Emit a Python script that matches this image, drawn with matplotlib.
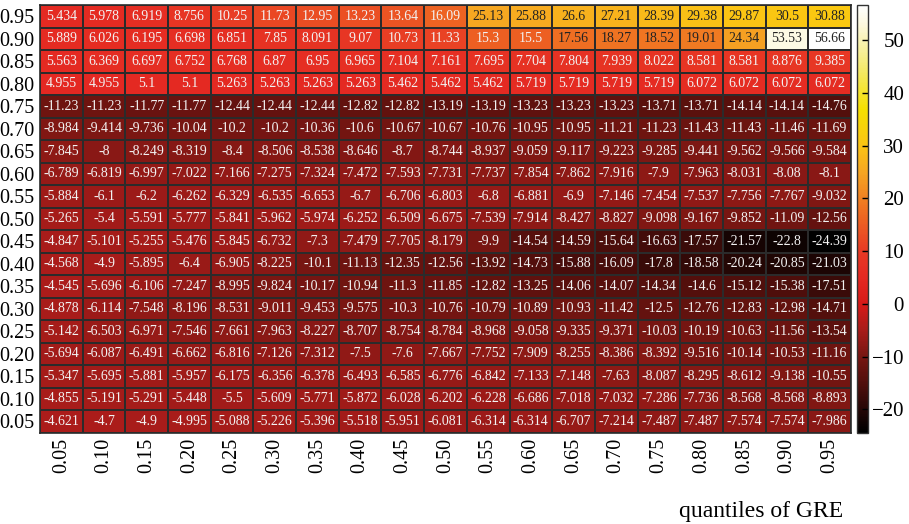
import numpy as np
import matplotlib.pyplot as plt
from matplotlib.colors import LinearSegmentedColormap, Normalize

plt.rcParams['font.family'] = ['Liberation Serif', 'DejaVu Serif']

# quantile levels used on both axes
quantiles = ['0.05', '0.10', '0.15', '0.20', '0.25', '0.30', '0.35', '0.40', '0.45', '0.50',
             '0.55', '0.60', '0.65', '0.70', '0.75', '0.80', '0.85', '0.90', '0.95']

# one list per row (y quantile), columns follow the GRE quantiles
row_095 = [5.434, 5.978, 6.919, 8.756, 10.25, 11.73, 12.95, 13.23, 13.64, 16.09,
           25.13, 25.88, 26.6, 27.21, 28.39, 29.38, 29.87, 30.5, 30.88]
row_090 = [5.889, 6.026, 6.195, 6.698, 6.851, 7.85, 8.091, 9.07, 10.73, 11.33,
           15.3, 15.5, 17.56, 18.27, 18.52, 19.01, 24.34, 53.53, 56.66]
row_085 = [5.563, 6.369, 6.697, 6.752, 6.768, 6.87, 6.95, 6.965, 7.104, 7.161,
           7.695, 7.704, 7.804, 7.939, 8.022, 8.581, 8.581, 8.876, 9.385]
row_080 = [4.955, 4.955, 5.1, 5.1, 5.263, 5.263, 5.263, 5.263, 5.462, 5.462,
           5.462, 5.719, 5.719, 5.719, 5.719, 6.072, 6.072, 6.072, 6.072]
row_075 = [-11.23, -11.23, -11.77, -11.77, -12.44, -12.44, -12.44, -12.82, -12.82, -13.19,
           -13.19, -13.23, -13.23, -13.23, -13.71, -13.71, -14.14, -14.14, -14.76]
row_070 = [-8.984, -9.414, -9.736, -10.04, -10.2, -10.2, -10.36, -10.6, -10.67, -10.67,
           -10.76, -10.95, -10.95, -11.21, -11.23, -11.43, -11.43, -11.46, -11.69]
row_065 = [-7.845, -8, -8.249, -8.319, -8.4, -8.506, -8.538, -8.646, -8.7, -8.744,
           -8.937, -9.059, -9.117, -9.223, -9.285, -9.441, -9.562, -9.566, -9.584]
row_060 = [-6.789, -6.819, -6.997, -7.022, -7.166, -7.275, -7.324, -7.472, -7.593, -7.731,
           -7.737, -7.854, -7.862, -7.916, -7.9, -7.963, -8.031, -8.08, -8.1]
row_055 = [-5.884, -6.1, -6.2, -6.262, -6.329, -6.535, -6.653, -6.7, -6.706, -6.803,
           -6.8, -6.881, -6.9, -7.146, -7.454, -7.537, -7.756, -7.767, -9.032]
row_050 = [-5.265, -5.4, -5.591, -5.777, -5.841, -5.962, -5.974, -6.252, -6.509, -6.675,
           -7.539, -7.914, -8.427, -8.827, -9.098, -9.167, -9.852, -11.09, -12.56]
row_045 = [-4.847, -5.101, -5.255, -5.476, -5.845, -6.732, -7.3, -7.479, -7.705, -8.179,
           -9.9, -14.54, -14.59, -15.64, -16.63, -17.57, -21.57, -22.8, -24.39]
row_040 = [-4.568, -4.9, -5.895, -6.4, -6.905, -8.225, -10.1, -11.13, -12.35, -12.56,
           -13.92, -14.73, -15.88, -16.09, -17.8, -18.58, -20.24, -20.85, -21.03]
row_035 = [-4.545, -5.696, -6.106, -7.247, -8.995, -9.824, -10.17, -10.94, -11.3, -11.85,
           -12.82, -13.25, -14.06, -14.07, -14.34, -14.6, -15.12, -15.38, -17.51]
row_030 = [-4.878, -6.114, -7.548, -8.196, -8.531, -9.011, -9.453, -9.575, -10.3, -10.76,
           -10.79, -10.89, -10.93, -11.42, -12.5, -12.76, -12.83, -12.98, -14.71]
row_025 = [-5.142, -6.503, -6.971, -7.546, -7.661, -7.963, -8.227, -8.707, -8.754, -8.784,
           -8.968, -9.058, -9.335, -9.371, -10.03, -10.19, -10.63, -11.56, -13.54]
row_020 = [-5.694, -6.087, -6.491, -6.662, -6.816, -7.126, -7.312, -7.5, -7.6, -7.667,
           -7.752, -7.909, -8.255, -8.386, -8.392, -9.516, -10.14, -10.53, -11.16]
row_015 = [-5.347, -5.695, -5.881, -5.957, -6.175, -6.356, -6.378, -6.493, -6.585, -6.776,
           -6.842, -7.133, -7.148, -7.63, -8.087, -8.295, -8.612, -9.138, -10.55]
row_010 = [-4.855, -5.191, -5.291, -5.448, -5.5, -5.609, -5.771, -5.872, -6.028, -6.202,
           -6.228, -6.686, -7.018, -7.032, -7.286, -7.736, -8.568, -8.568, -8.893]
row_005 = [-4.621, -4.7, -4.9, -4.995, -5.088, -5.226, -5.396, -5.518, -5.951, -6.081,
           -6.314, -6.314, -6.707, -7.214, -7.487, -7.487, -7.574, -7.574, -7.986]

# bottom row first so that 0.05 sits at the bottom of the grid
values = np.array([row_005, row_010, row_015, row_020, row_025, row_030, row_035,
                   row_040, row_045, row_050, row_055, row_060, row_065, row_070,
                   row_075, row_080, row_085, row_090, row_095])

vmin, vmax = values.min(), values.max()

# black -> dark red -> red -> orange -> yellow -> white
stops = [(-24.39, '#000000'), (-15, '#520f0c'), (-10, '#781612'), (-5, '#a81c1a'),
         (0, '#d81a18'), (5, '#e42822'), (10, '#e83a24'), (17, '#ee6a22'),
         (25, '#f6a622'), (30, '#fbc414'), (37, '#f5e000'), (45, '#f4ea70'),
         (53, '#fdf8dc'), (56.66, '#ffffff')]
cmap = LinearSegmentedColormap.from_list(
    'heat', [((v - vmin) / (vmax - vmin), c) for v, c in stops])
norm = Normalize(vmin=vmin, vmax=vmax)

fig = plt.figure(figsize=(9.09, 5.24), dpi=100)
ax = fig.add_axes([40 / 909, 1 - 432.5 / 524, 811 / 909, 427.5 / 524])

mesh = ax.pcolormesh(values, cmap=cmap, norm=norm, edgecolors='#2b2b2b', linewidth=1.4)

n = len(quantiles)
for i in range(n):
    for j in range(n):
        v = values[i, j]
        col = '#222222' if v > 17 else '#f2f2f2'
        ax.text(j + 0.5, i + 0.5, f'{v:.4g}', ha='center', va='center',
                fontsize=10, color=col)

ax.set_xlim(0, n)
ax.set_ylim(0, n)
ax.set_xticks(np.arange(n) + 0.5)
ax.set_xticklabels(quantiles, rotation=90, fontsize=14.5)
ax.set_yticks(np.arange(n) + 0.5)
ax.set_yticklabels(quantiles, fontsize=14.5)
ax.tick_params(length=0, pad=4)
for s in ax.spines.values():
    s.set_color('#2b2b2b')
    s.set_linewidth(1.2)

fig.text(843 / 909, 1 - 517 / 524, 'quantiles of GRE', ha='right', va='baseline', fontsize=17)

cax = fig.add_axes([857 / 909, 1 - 432.5 / 524, 11 / 909, 427.5 / 524])
cb = fig.colorbar(mesh, cax=cax, ticks=[-20, -10, 0, 10, 20, 30, 40, 50])
cb.outline.set_linewidth(1)
cb.outline.set_edgecolor('#333333')
cax.tick_params(direction='in', length=4, width=1, labelsize=15, pad=26)

# colorbar labels are right-aligned; the ticks exist only after a first draw
fig.canvas.draw()
for t in cax.get_yticklabels():
    t.set_horizontalalignment('right')

fig.savefig('out.png', dpi=100)
